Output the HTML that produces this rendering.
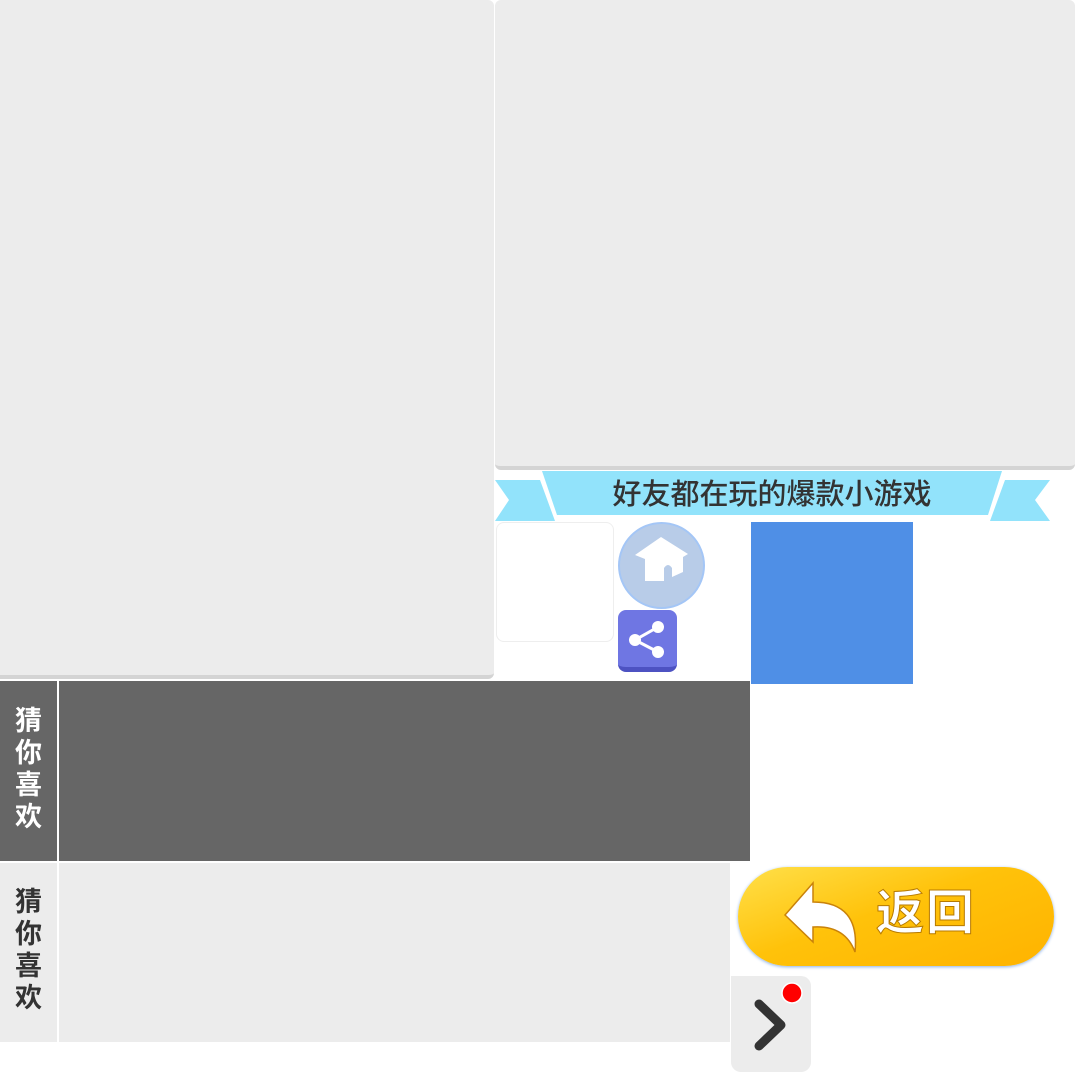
<!DOCTYPE html>
<html><head><meta charset="utf-8"><style>
body{margin:0;width:1075px;height:1072px;position:relative;overflow:hidden;background:#fff;font-family:"Liberation Sans","Noto Sans CJK SC",sans-serif}
div{position:absolute;box-sizing:border-box}
.g{background:#ececec}
.v{color:#fff;font-size:27px;font-weight:bold;line-height:32px;text-align:center;width:57px}
</style></head><body>
<div class="g" style="left:0;top:0;width:494px;height:679px;border-radius:0 6px 6px 0;border-bottom:4px solid #d4d4d4"></div>
<div class="g" style="left:495px;top:0;width:580px;height:470px;border-radius:6px;border-bottom:4px solid #d4d4d4"></div>
<svg style="position:absolute;left:495px;top:470px" width="555" height="52">
<polygon points="0,10 45,10 60,51 0,51 14,30" fill="#92e3fb"/>
<polygon points="510,10 555,10 540,30 555,51 495,51" fill="#92e3fb"/>
<polygon points="47,1 507,1 493,45 62,45" fill="#92e3fb"/>
<text x="277" y="34" text-anchor="middle" font-size="29" font-weight="500" fill="#333" font-family="Liberation Sans,Noto Sans CJK SC,sans-serif">好友都在玩的爆款小游戏</text>
</svg>
<div style="left:496px;top:522px;width:118px;height:120px;border:1px solid #eee;border-radius:8px"></div>
<div style="left:618px;top:522px;width:87px;height:87px;border-radius:50%;background:#b8cce8;border:2px solid #a4c6f6"></div>
<svg style="position:absolute;left:618px;top:522px" width="87" height="87"><path d="M43,15 L70,32 L65,35 L65,50 L54,55 L54,46 Q50,40 46,46 L46,59 L27,59 L27,37 L17,33 Z" fill="#fff"/></svg>
<div style="left:618px;top:610px;width:59px;height:62px;border-radius:8px;background:#6f76e3;border-bottom:5px solid #4d52c2"></div>
<svg style="position:absolute;left:618px;top:610px" width="59" height="60"><path d="M17,30 L40,17 M17,30 L40,42" stroke="#fff" stroke-width="3"/><circle cx="17" cy="30" r="6" fill="#fff"/><circle cx="40" cy="17" r="6" fill="#fff"/><circle cx="40" cy="42" r="6" fill="#fff"/></svg>
<div style="left:751px;top:522px;width:162px;height:162px;background:#4f8fe6"></div>
<div style="left:0;top:681px;width:57px;height:180px;background:#666"></div>
<div style="left:59px;top:681px;width:691px;height:180px;background:#666"></div>
<div class="v" style="left:0;top:705px">猜<br>你<br>喜<br>欢</div>
<div class="g" style="left:0;top:863px;width:57px;height:179px"></div>
<div class="g" style="left:59px;top:863px;width:671px;height:179px"></div>
<div class="v" style="left:0;top:886px;color:#333">猜<br>你<br>喜<br>欢</div>
<div style="left:738px;top:867px;width:316px;height:99px;border-radius:50px;background:linear-gradient(160deg,#ffe04a,#ffc20a 45%,#ffb300);box-shadow:0 1px 3px #8ab0e8"></div>
<svg style="position:absolute;left:780px;top:880px" width="90" height="75"><path d="M5,35 L33,3 L33,22 Q80,22 75,72 Q65,45 33,47 L33,62 Z" fill="#fff" stroke="#c9820a" stroke-width="1.5"/></svg>
<div style="left:876px;top:884px;font-size:48px;font-weight:bold;color:#fff;-webkit-text-stroke:1px #b77a00;letter-spacing:2px;line-height:60px">返回</div>
<div class="g" style="left:731px;top:976px;width:80px;height:96px;border-radius:0 10px 10px 10px"></div>
<svg style="position:absolute;left:731px;top:976px" width="80" height="96"><path d="M28,28 L50,49 L28,70" fill="none" stroke="#333" stroke-width="9" stroke-linecap="round" stroke-linejoin="round"/><circle cx="61" cy="17" r="10" fill="red" stroke="#fff" stroke-width="1.5"/></svg>
</body></html>
